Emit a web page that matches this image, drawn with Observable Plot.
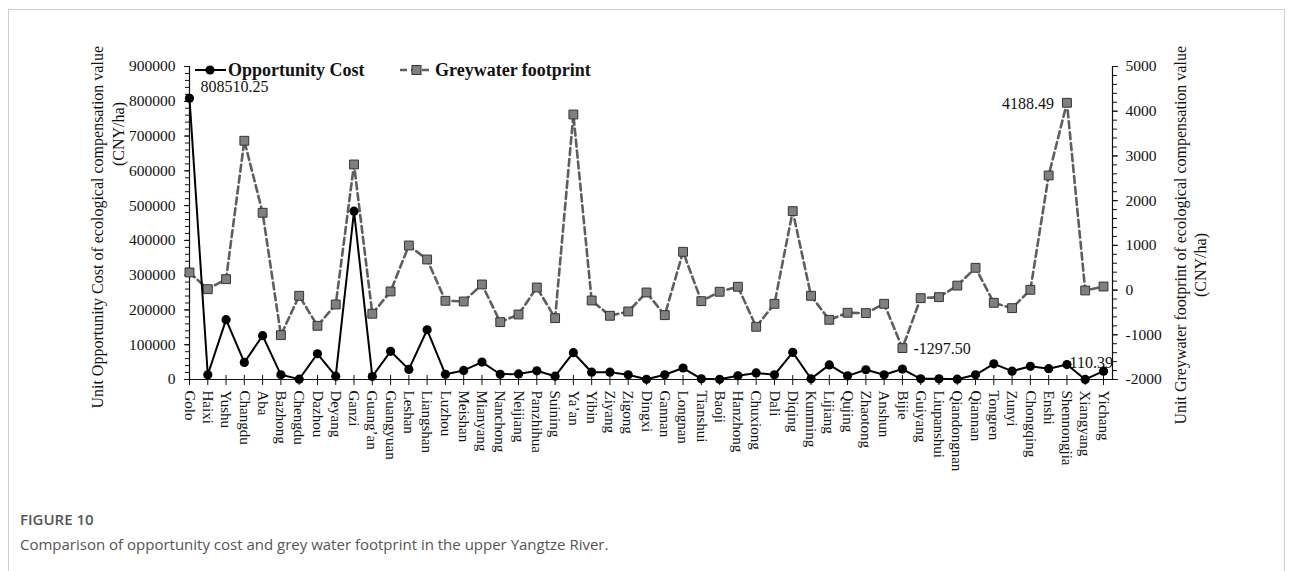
<!DOCTYPE html>
<html>
<head>
<meta charset="utf-8">
<script src="https://cdn.jsdelivr.net/npm/d3@7"></script>
<script src="https://cdn.jsdelivr.net/npm/@observablehq/plot@0.6"></script>
<style>
  body { margin: 0; background: #fff; }
  #fig { position: relative; width: 1292px; height: 571px; overflow: hidden; }
  #box { position: absolute; left: 8px; top: 9px; width: 1275px; height: 620px; border: 1px solid #cfcfcf; }
  #chart, #legend { position: absolute; left: 0; top: 0; }
  .cap { position: absolute; left: 20px; font-family: "Open Sans", sans-serif; color: #555; white-space: nowrap; }
</style>
</head>
<body>
<div id="fig">
  <div id="box"></div>
  <div id="chart"></div>
  <svg id="legend" width="700" height="100"></svg>
  <div class="cap" style="top:509px;font-size:15px;font-weight:600;">FIGURE 10</div>
  <div class="cap" style="top:534px;font-size:15px;font-weight:400;">Comparison of opportunity cost and grey water footprint in the upper Yangtze River.</div>
</div>
<script>
// Prefectures / cities of the upper Yangtze River basin
const cities = ["Golo","Haixi","Yushu","Changdu","Aba","Bazhong","Chengdu","Dazhou","Deyang","Ganzi",
  "Guang’an","Guangyuan","Leshan","Liangshan","Luzhou","Meishan","Mianyang","Nanchong","Neijiang","Panzhihua",
  "Suining","Ya’an","Yibin","Ziyang","Zigong","Dingxi","Gannan","Longnan","Tianshui","Baoji",
  "Hanzhong","Chuxiong","Dali","Diqing","Kunming","Lijiang","Qujing","Zhaotong","Anshun","Bijie",
  "Guiyang","Liupanshui","Qiandongnan","Qiannan","Tongren","Zunyi","Chongqing","Enshi","Shennongjia","Xiangyang",
  "Yichang"];

// Unit opportunity cost of ecological compensation value (CNY/ha)
const opportunityCost = [808510.25, 13500, 172000, 49000, 126000, 13500, 1000, 74000, 9500, 484000,
  8600, 81000, 29000, 143000, 15000, 26000, 50000, 15000, 16000, 25000,
  9500, 77000, 21000, 21000, 13500, 500, 13500, 33000, 2000, 500,
  10500, 19000, 13500, 78000, 2000, 42000, 10500, 28000, 13500, 30000,
  2000, 2000, 800, 13500, 45000, 24000, 38000, 31000, 43000, 110.39,
  24000];

// Unit greywater footprint of ecological compensation value (CNY/ha)
const greywater = [394, 20, 244, 3339, 1729, -1008, -128, -799, -322, 2809,
  -530, -31, 997, 684, -240, -255, 125, -717, -546, 58,
  -628, 3927, -233, -575, -479, -54, -561, 856, -248, -38,
  74, -821, -307, 1765, -128, -665, -508, -515, -307, -1297.50,
  -181, -158, 100, 498, -285, -404, 6, 2563, 4188.49, -9,
  80];

const leftTicks = d3.range(0, 900001, 100000);
const leftMinor = d3.range(0, 900001, 20000);
const rightTicks = d3.range(-2000, 5001, 1000);
const rightMinor = d3.range(-2000, 5001, 200);

// The secondary (right) axis is mapped linearly onto the primary domain
const leftMax = 900000, rightMin = -2000, rightMax = 5000;
const toLeft = v => (v - rightMin) / (rightMax - rightMin) * leftMax;
const fromLeft = v => v / leftMax * (rightMax - rightMin) + rightMin;

// one row per city; the x position is the city's index along the axis
const rows = cities.map((city, i) => ({i, city, cost: opportunityCost[i], grey: greywater[i]}));
const cityIndex = d3.range(cities.length);

const serif = "'Liberation Serif','Times New Roman',serif";
const W = 1292, H = 490, ML = 189, MR = 180, MT = 66, MB = 111;

const maxCost = d3.greatest(rows, d => d.cost);
const minCost = d3.least(rows, d => d.cost);
const maxGrey = d3.greatest(rows, d => d.grey);
const minGrey = d3.least(rows, d => d.grey);

const chart = Plot.plot({
  width: W, height: H,
  marginLeft: ML, marginRight: MR, marginTop: MT, marginBottom: MB,
  style: {fontFamily: serif, fontSize: "15.5px", color: "#111", background: "transparent", overflow: "visible"},
  x: {type: "linear", domain: [0, cities.length - 1], insetRight: 9},
  y: {domain: [0, leftMax]},
  marks: [
    // axis lines
    Plot.frame({anchor: "left", stroke: "#111", strokeWidth: 1.2}),
    Plot.frame({anchor: "right", stroke: "#111", strokeWidth: 1.2}),
    Plot.frame({anchor: "bottom", stroke: "#111", strokeWidth: 1.2}),

    // x axis: rotated city names, ticks crossing the axis line
    Plot.axisX({ticks: cityIndex, tickFormat: i => cities[i], tickSize: 6, tickPadding: 5, tickRotate: 90,
      label: null, fontSize: 15, stroke: "#111"}),
    Plot.axisX({ticks: cityIndex, tickSize: -4, tickFormat: () => "", label: null, stroke: "#111"}),

    // left axis (opportunity cost)
    Plot.axisY({ticks: leftTicks, tickSize: 5, tickPadding: 9, tickFormat: d => String(d), label: null, stroke: "#111"}),
    Plot.axisY({ticks: leftMinor, tickSize: 4, tickFormat: () => "", label: null, stroke: "#111"}),

    // right axis (greywater footprint)
    Plot.axisY({anchor: "right", ticks: rightTicks.map(toLeft), tickSize: 5, tickPadding: 8,
      tickFormat: d => String(Math.round(fromLeft(d))), label: null, stroke: "#111"}),
    Plot.axisY({anchor: "right", ticks: rightMinor.map(toLeft), tickSize: 4, tickFormat: () => "", label: null, stroke: "#111"}),

    // axis titles
    Plot.text(["Unit Opportunity Cost of ecological compensation value"], {text: d => d, frameAnchor: "left",
      rotate: -90, textAnchor: "end", dx: -92, dy: -177, fontSize: 16}),
    Plot.text(["(CNY/ha)"], {text: d => d, frameAnchor: "left", rotate: -90, dx: -71, dy: -57, fontSize: 16}),
    Plot.text(["Unit Greywater footprint of ecological compensation value"], {text: d => d, frameAnchor: "right",
      rotate: -90, textAnchor: "end", dx: 68, dy: -177, fontSize: 16}),
    Plot.text(["(CNY/ha)"], {text: d => d, frameAnchor: "right", rotate: -90, dx: 88, dy: 10, fontSize: 16}),

    // greywater footprint series (dashed grey with squares)
    Plot.line(rows, {x: "i", y: d => toLeft(d.grey), stroke: "#5e5e5e", strokeWidth: 2.6, strokeDasharray: "7,4"}),
    Plot.dot(rows, {x: "i", y: d => toLeft(d.grey), symbol: "square", r: 5, fill: "#808080", stroke: "#333", strokeWidth: 1}),

    // opportunity cost series (solid black with circles)
    Plot.line(rows, {x: "i", y: "cost", stroke: "#000", strokeWidth: 2}),
    Plot.dot(rows, {x: "i", y: "cost", r: 4.6, fill: "#000"}),

    // value labels for the extremes
    Plot.text([maxCost], {x: "i", y: "cost", text: d => d.cost.toFixed(2), textAnchor: "start", dx: 11, dy: -11, fontSize: 16}),
    Plot.text([minCost], {x: "i", y: "cost", text: d => d.cost.toFixed(2), textAnchor: "middle", dx: 6, dy: -17, fontSize: 16}),
    Plot.text([maxGrey], {x: "i", y: d => toLeft(d.grey), text: d => d.grey.toFixed(2), textAnchor: "end", dx: -13, dy: 1, fontSize: 16}),
    Plot.text([minGrey], {x: "i", y: d => toLeft(d.grey), text: d => d.grey.toFixed(2), textAnchor: "start", dx: 11, dy: 1, fontSize: 16})
  ]
});
document.getElementById("chart").append(chart);

// legend
const lg = d3.select("#legend");
const ly = 70;
lg.append("line").attr("x1", 195).attr("x2", 226).attr("y1", ly).attr("y2", ly).attr("stroke", "#000").attr("stroke-width", 2);
lg.append("circle").attr("cx", 210).attr("cy", ly).attr("r", 4.6).attr("fill", "#000");
lg.append("text").attr("x", 228).attr("y", 76).text("Opportunity Cost")
  .attr("font-family", serif).attr("font-weight", "bold").attr("font-size", 18).attr("fill", "#111");
lg.append("line").attr("x1", 400).attr("x2", 433).attr("y1", ly).attr("y2", ly).attr("stroke", "#5e5e5e")
  .attr("stroke-width", 2.6).attr("stroke-dasharray", "7,4");
lg.append("rect").attr("x", 412).attr("y", ly - 4.5).attr("width", 9).attr("height", 9)
  .attr("fill", "#808080").attr("stroke", "#333").attr("stroke-width", 1);
lg.append("text").attr("x", 435).attr("y", 76).text("Greywater footprint")
  .attr("font-family", serif).attr("font-weight", "bold").attr("font-size", 18).attr("fill", "#111");
</script>
</body>
</html>
